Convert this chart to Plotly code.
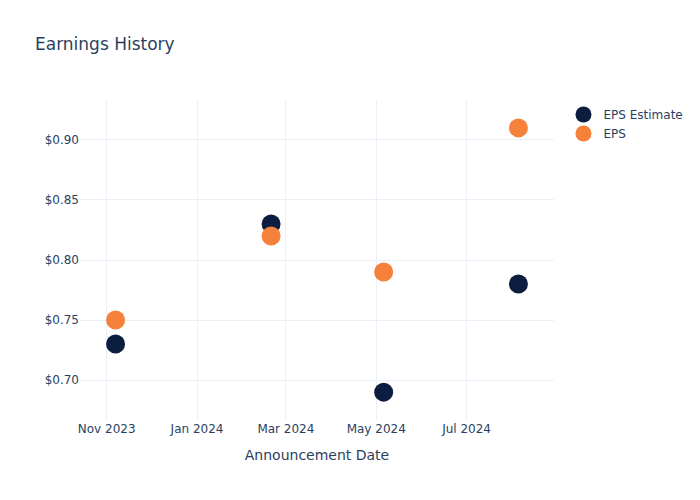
import plotly.graph_objects as go

dates = ["2023-11-07", "2024-02-20", "2024-05-06", "2024-08-05"]
eps_estimate = [0.73, 0.83, 0.69, 0.78]
eps_actual = [0.75, 0.82, 0.79, 0.91]

fig = go.Figure()
fig.add_trace(go.Scatter(x=dates, y=eps_estimate, mode="markers", name="EPS Estimate",
                         marker=dict(size=19, color="#0b1e40")))
fig.add_trace(go.Scatter(x=dates, y=eps_actual, mode="markers", name="EPS",
                         marker=dict(size=19, color="#f6813a")))
fig.update_layout(
    template="plotly_white",
    width=700, height=500,
    font=dict(family="DejaVu Sans"),
    title=dict(text="Earnings History"),
    xaxis=dict(title=dict(text="Announcement Date"), dtick="M2", tickformat="%b %Y"),
    yaxis=dict(tickprefix="$", tickformat=".2f"),
)
fig.write_html("out.html")
